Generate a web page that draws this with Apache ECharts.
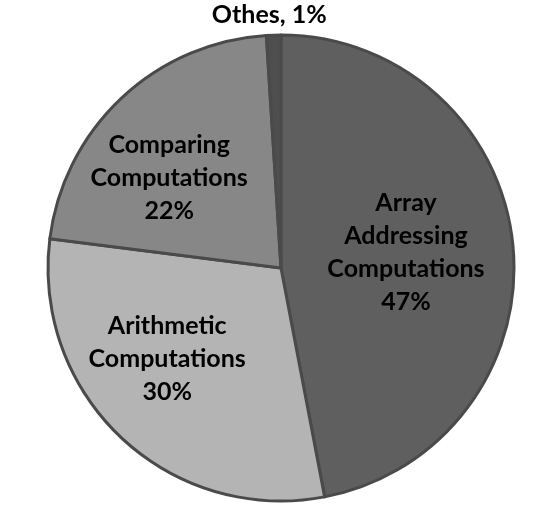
<!DOCTYPE html>
<html>
<head>
<meta charset="utf-8">
<script src="https://cdn.jsdelivr.net/npm/echarts@6/dist/echarts.min.js"></script>
<style>
  html, body { margin: 0; padding: 0; background: #fff; }
  #chart { width: 554px; height: 522px; }
</style>
</head>
<body>
<div id="chart"></div>
<script>
// slice data, clockwise from 12 o'clock
const names = ['Array\nAddressing\nComputations', 'Arithmetic\nComputations', 'Comparing\nComputations', 'Othes']
const values = [47, 30, 22, 1]

const colors = ['#5f5f5f', '#b4b4b4', '#878787', '#4e4e4e']
// nudges from the default "inside" label spot
const labelOffsets = [[6, -4], [-32, 4], [-30, -3], [-8, -134]]

const chart = echarts.init(document.getElementById('chart'))

const option = {
    animation: false,
    series: [{
        type: 'pie',
        center: [281, 268],
        radius: 233,
        startAngle: 90,
        clockwise: true,
        itemStyle: {
            borderColor: '#4a4a4a',
            borderWidth: 3
        },
        label: {
            show: true,
            position: 'inside',
            color: '#000',
            fontFamily: 'Lato',
            fontWeight: 'bold',
            fontSize: 25,
            lineHeight: 33,
            align: 'center',
            formatter: p => p.name === 'Othes'
                ? p.name + ', ' + p.value + '%'
                : p.name + '\n' + p.value + '%'
        },
        labelLine: { show: false },
        emphasis: { disabled: true },
        data: names.map((n, i) => ({
            name: n,
            value: values[i],
            itemStyle: { color: colors[i] },
            label: { offset: labelOffsets[i] }
        }))
    }]
}
chart.setOption(option)
</script>
</body>
</html>
